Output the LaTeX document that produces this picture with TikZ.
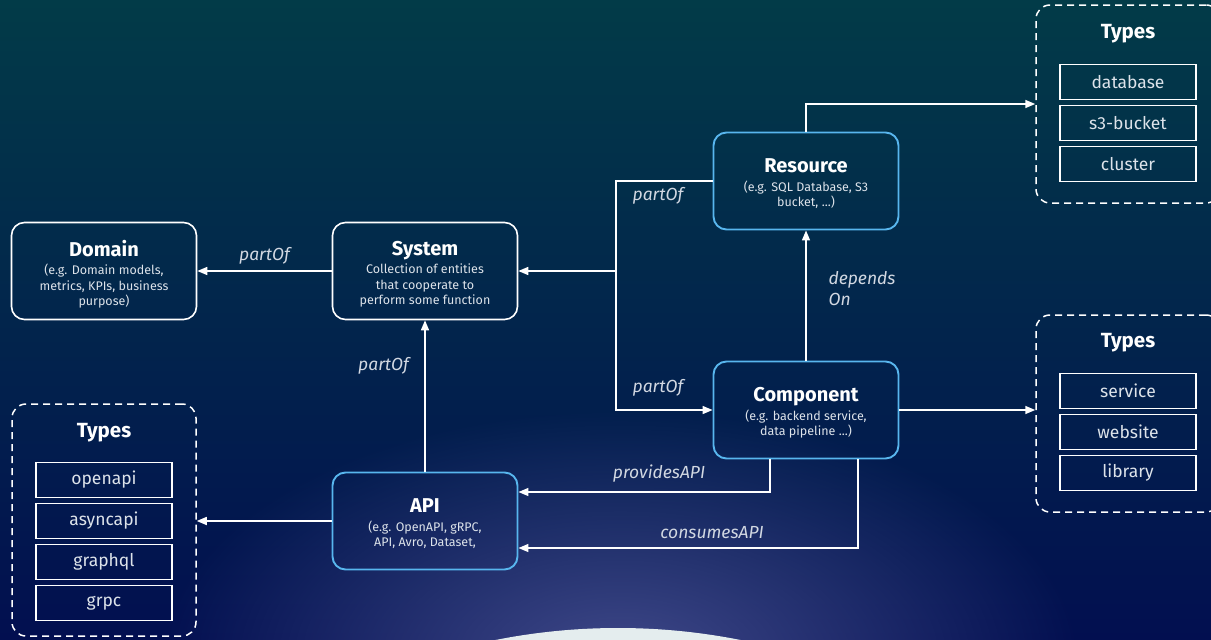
\documentclass[tikz,border=0pt]{standalone}
\usepackage{fontspec}
\setmainfont{Fira Sans}
\usetikzlibrary{arrows.meta,positioning,fadings}

\definecolor{bgtop}{HTML}{023B48}
\definecolor{bgmid}{HTML}{02274C}
\definecolor{bgbot}{HTML}{020F50}
\definecolor{edgeblue}{HTML}{58B6EE}
\definecolor{subtxt}{HTML}{DDE3EA}
\definecolor{lbltxt}{HTML}{D2D8E2}
\definecolor{glowc}{HTML}{5A62A2}
\definecolor{arcwhite}{HTML}{E4EDEE}

\tikzfading[name=glowfade, inner color=transparent!30, outer color=transparent!100]

\newcommand{\entitytitle}[1]{\textcolor{white}{\fontsize{20}{24}\selectfont\bfseries #1}}

\tikzset{
  entity/.style={draw=white, line width=1.6pt, rounded corners=13pt,
    minimum width=185pt, minimum height=97pt, align=center, text=subtxt,
    font=\fontsize{12.5}{15.5}\selectfont},
  blueentity/.style={entity, draw=edgeblue, line width=1.9pt},
  entitytext/.style={align=center, text=subtxt, font=\fontsize{12.5}{15.5}\selectfont, yshift=-3pt},
  typesbox/.style={draw=white, line width=1.5pt, dash pattern=on 7pt off 5pt,
    rounded corners=14pt, minimum width=184pt},
  typestitle/.style={text=white, font=\fontsize{20.5}{24}\selectfont\bfseries},
  typeitem/.style={draw=white, line width=1.4pt, minimum width=136pt,
    minimum height=35pt, text=subtxt, font=\fontsize{17.5}{20}\selectfont},
  rel/.style={draw=white, line width=1.5pt, -{Triangle[length=10pt,width=8pt]}},
  rellbl/.style={text=lbltxt, font=\fontsize{17.5}{21}\selectfont\itshape}
}

\begin{document}
\begin{tikzpicture}[x=1pt,y=-1pt]
    \useasboundingbox (0,0) rectangle (1211,640);
    % background
    \shade[top color=bgtop, middle color=bgmid, bottom color=bgbot] (0,0) rectangle (1211,640);
    \begin{scope}
        \clip (0,0) rectangle (1211,640);
        \fill[glowc, path fading=glowfade] (620,660) ellipse (460 and 250);
        \fill[arcwhite] (618,1254) circle (626);
    \end{scope}

    % entities
    \node[entity, label={[entitytext]center:{\entitytitle{Domain}\\[3pt] (e.g. Domain models,\\ metrics, KPIs, business\\ purpose)}}] (domain) at (104,271) {};
    \node[entity, label={[entitytext]center:{\entitytitle{System}\\[3pt] Collection of entities\\ that cooperate to\\ perform some function}}] (system) at (425,271) {};
    \node[blueentity, label={[entitytext]center:{\entitytitle{Resource}\\[3pt] (e.g. SQL Database, S3\\ bucket, ...)}}] (resource) at (806,181) {};
    \node[blueentity, label={[entitytext]center:{\entitytitle{Component}\\[3pt] (e.g. backend service,\\ data pipeline ...)}}] (component) at (806,410) {};
    \node[blueentity, label={[entitytext]center:{\entitytitle{API}\\[3pt] (e.g. OpenAPI, gRPC,\\ API, Avro, Dataset,}}] (api) at (425,521) {};

    % types boxes
    \node[typesbox, minimum height=198pt] (restypes) at (1128,104) {};
    \node[typesbox, minimum height=197pt] (comptypes) at (1128,413.5) {};
    \node[typesbox, minimum height=232pt] (apitypes) at (104,520) {};
    \node[typestitle] (restitle) at (1128,34) {Types};
    \node[typestitle] (comptitle) at (1128,343) {Types};
    \node[typestitle] (apititle) at (104,433) {Types};
    \foreach \y/\name in {82/database, 123/s3-bucket, 164/cluster} {
        \node[typeitem] (res-\name) at (1128,\y) {\name};
    }
    \foreach \y/\name in {391/service, 432/website, 473/library} {
        \node[typeitem] (comp-\name) at (1128,\y) {\name};
    }
    \foreach \y/\name in {480/openapi, 521/asyncapi, 562/graphql, 603/grpc} {
        \node[typeitem] (api-\name) at (104,\y) {\name};
    }

    % relations
    \coordinate (junction) at (616,271);
    \draw[rel] (system.west) -- node[rellbl, above=3pt] {partOf} (domain.east);
    \draw[rel] (resource.west) -| (junction) -- (system.east);
    \draw[rel] (junction) |- (component.west);
    \node[rellbl] (respartof) at (658,196) {partOf};
    \node[rellbl] (comppartof) at (658,388) {partOf};
    \draw[rel] (resource.north) |- (restypes.west);
    \draw[rel] (component.north) -- (resource.south);
    \node[rellbl, anchor=west, align=left] (depends) at (825,289) {depends\\ On};
    \draw[rel] (component.east) -- (component.east -| comptypes.west);
    \draw[rel] ([xshift=-36pt]component.south) |- ([yshift=29pt]api.east);
    \node[rellbl] (provides) at (659,474) {providesAPI};
    \draw[rel] ([xshift=52pt]component.south) |- ([yshift=-27pt]api.east);
    \node[rellbl] (consumes) at (712,533) {consumesAPI};
    \draw[rel] (api.north) -- node[rellbl, left=12pt, pos=0.7] {partOf} (system.south);
    \draw[rel] (api.west) -- (api.west -| apitypes.east);
\end{tikzpicture}
\end{document}
